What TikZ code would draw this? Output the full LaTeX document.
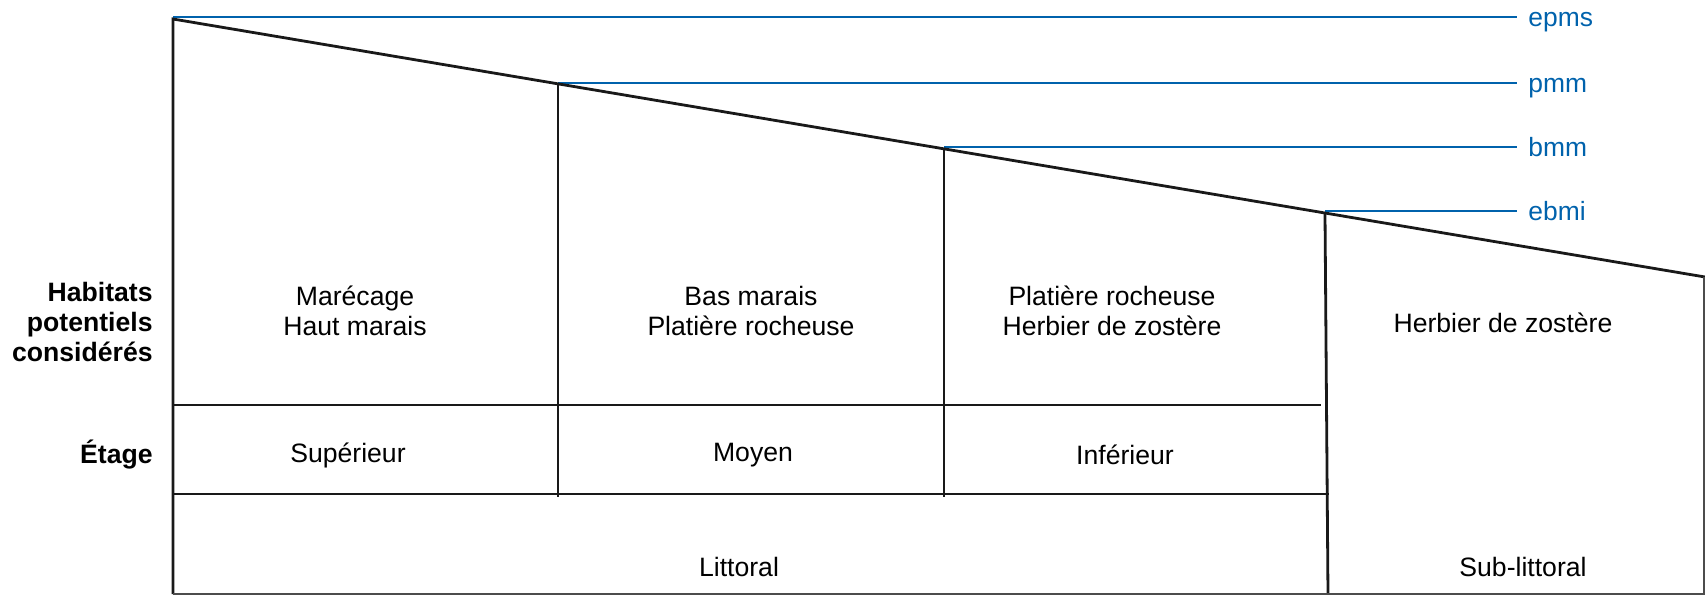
\documentclass[tikz,border=0pt]{standalone}
\usepackage{fontspec}
\setmainfont{Liberation Sans}
\usetikzlibrary{positioning}
\definecolor{levelblue}{RGB}{0,98,172}
\tikzset{zone line/.style={line width=1.4pt,black!90},
level line/.style={line width=1.2pt,levelblue},
level label/.style={text=levelblue,font=\fontsize{13.2}{15}\selectfont,anchor=base west,inner sep=0pt},
cell text/.style={font=\fontsize{13.3}{15.2}\selectfont,align=center,inner sep=0pt},
row head/.style={font=\bfseries\fontsize{13.3}{15.2}\selectfont,align=right,anchor=east,inner sep=0pt}}

\begin{document}
\begin{tikzpicture}[x=0.5pt,y=-0.5pt]
\useasboundingbox (0,0) rectangle (1705,595);
% corners of the shore profile
\coordinate (top) at (173,19);
\coordinate (end) at (1705,277);
\coordinate (p1) at (558,84);
\coordinate (p2) at (944,149);
\coordinate (p3) at (1325,213);
% tide levels
\draw[level line] (173,17) -- (1517,17);
\draw[level line] (558,83) -- (1517,83);
\draw[level line] (944,147) -- (1517,147);
\draw[level line] (1325,211) -- (1517,211);
\node[level label] (epms) at (1528,26) {epms};
\node[level label] (pmm) at (1528,92) {pmm};
\node[level label] (bmm) at (1528,156) {bmm};
\node[level label] (ebmi) at (1528,220) {ebmi};
% profile and zones
\draw[zone line] (173,594) -- (top) -- (end);
\draw[zone line] (p1) -- (558,497);
\draw[zone line] (p2) -- (944,497);
\draw[zone line] (p3) -- (1328,594);
\draw[zone line] (173,405) -- (1321,405);
\draw[zone line] (173,494) -- (1329,494);
\draw[line width=0.8pt,black!70] (173,594) -- (1704,594) -- (1704,277);
% row heads
\node[row head] (habitats) at (153,322) {Habitats\\potentiels\\considérés};
\node[row head] (etage) at (153,455) {Étage};
% habitats
\node[cell text] (h1) at (355,311) {Marécage\\Haut marais};
\node[cell text] (h2) at (751,311) {Bas marais\\Platière rocheuse};
\node[cell text] (h3) at (1112,311) {Platière rocheuse\\Herbier de zostère};
\node[cell text] (h4) at (1503,323) {Herbier de zostère};
% etages
\node[cell text] (e1) at (348,455) {Supérieur};
\node[cell text] (e2) at (753,455) {Moyen};
\node[cell text] (e3) at (1125,455) {Inférieur};
\node[cell text] (littoral) at (739,567) {Littoral};
\node[cell text] (sublittoral) at (1523,567) {Sub-littoral};
\end{tikzpicture}
\end{document}
